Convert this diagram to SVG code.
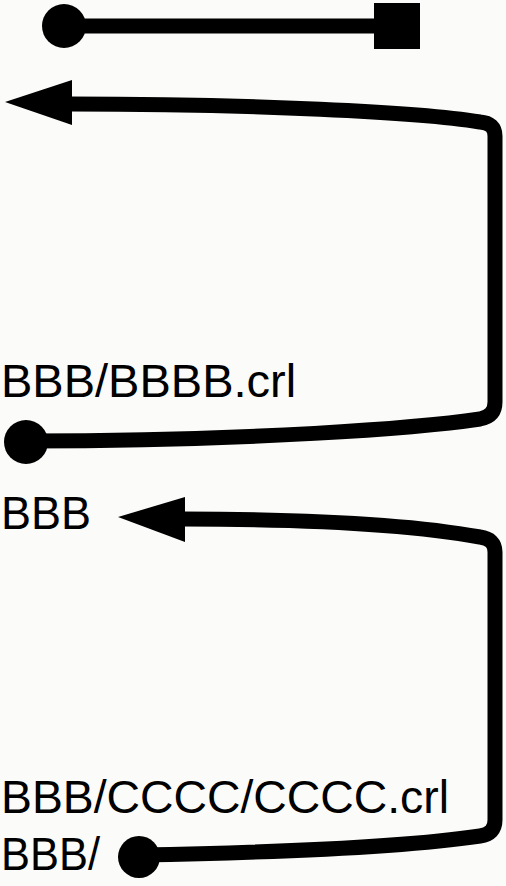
<svg xmlns="http://www.w3.org/2000/svg" width="506" height="886" viewBox="0 0 506 886">
  <style>
    .wire { fill: none; stroke: #000; stroke-width: 15; stroke-linejoin: round; }
    .blob { fill: #000; }
    .lbl { font-family: "Liberation Sans", Arial, sans-serif; font-size: 47px; fill: #000; }
  </style>
  <rect width="506" height="886" fill="#fbfbf9"/>

  <g id="connectors">
    <!-- top link: dot to square -->
    <g id="link-top">
      <line class="wire" x1="64" y1="26" x2="380" y2="26" stroke-width="16"/>
      <circle class="blob" cx="64" cy="26" r="22"/>
      <rect class="blob" x="374" y="3" width="46" height="46"/>
    </g>
    <!-- first loop: dot on the left, around the right side, back to an arrowhead -->
    <g id="loop-1">
      <path class="wire" d="M 26 441 C 250 441 420 428 480 419 Q 495 416 495 402 L 495 136 Q 495 123 480 122 C 420 112 250 104 70 104"/>
      <circle class="blob" cx="26" cy="442" r="22"/>
      <polygon class="blob" points="5,102 72,80 72,125"/>
    </g>
    <!-- second loop -->
    <g id="loop-2">
      <path class="wire" d="M 139 855 C 300 852 420 845 480 836 Q 495 834 495 820 L 495 552 Q 495 539 480 537 C 420 526 330 519 183 519"/>
      <circle class="blob" cx="139" cy="857" r="21"/>
      <polygon class="blob" points="118,517 185,497 185,542"/>
    </g>
  </g>

  <g id="label-bbbb-crl">
    <text class="lbl" x="1" y="397">BBB/BBBB.crl</text>
  </g>
  <g id="label-bbb">
    <text class="lbl" x="1" y="529" textLength="90" lengthAdjust="spacingAndGlyphs">BBB</text>
  </g>
  <g id="label-cccc-crl">
    <text class="lbl" x="1" y="813" textLength="448" lengthAdjust="spacingAndGlyphs">BBB/CCCC/CCCC.crl</text>
  </g>
  <g id="label-bbb-slash">
    <text class="lbl" x="1" y="870" textLength="99" lengthAdjust="spacingAndGlyphs">BBB/</text>
  </g>
</svg>
